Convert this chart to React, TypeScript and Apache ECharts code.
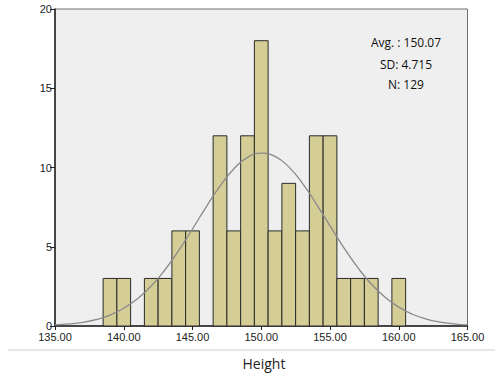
import React, { useEffect, useRef } from "react";
import * as echarts from "echarts";

const binCenters = [139, 140, 142, 143, 144, 145, 147, 148, 149, 150, 151, 152, 153, 154, 155, 156, 157, 158, 160];
const binCounts = [3, 3, 3, 3, 6, 6, 12, 6, 12, 18, 6, 9, 6, 12, 12, 3, 3, 3, 3];
const curveX = [135,136,137,138,139,140,141,142,143,144,145,146,147,148,149,150,151,152,153,154,155,156,157,158,159,160,161,162,163,164,165];
const curveY = [0.07,0.13,0.23,0.41,0.69,1.12,1.72,2.52,3.55,4.77,6.12,7.52,8.83,9.91,10.64,10.91,10.70,10.04,9.00,7.71,6.32,4.95,3.71,2.65,1.82,1.19,0.74,0.44,0.25,0.14,0.07];
const statLines = ["Avg. : 150.07", "SD: 4.715", "N: 129"];
const xTitle = "Height";

export default function App() {
  const ref = useRef<HTMLDivElement>(null);
  useEffect(() => {
    const chart = echarts.init(ref.current!, null, { renderer: "svg" });
    chart.setOption({
      animation: false,
      backgroundColor: "#ffffff",
      grid: {
        left: 55, top: 9, right: 35.5, bottom: 52,
        show: true, backgroundColor: "#efefef", borderColor: "#6e6e6e", borderWidth: 1,
      },
      xAxis: {
        type: "value", min: 135, max: 165, interval: 5,
        axisLine: { show: true, lineStyle: { color: "#222", width: 1.5 } },
        axisTick: { show: true, length: 4, lineStyle: { color: "#222" } },
        axisLabel: { formatter: (v: number) => v.toFixed(2), color: "#222", fontFamily: "Liberation Sans", fontSize: 11, margin: 5 },
        splitLine: { show: false },
      },
      yAxis: {
        type: "value", min: 0, max: 20, interval: 5,
        axisLine: { show: true, lineStyle: { color: "#222", width: 1.5 } },
        axisTick: { show: true, length: 5, lineStyle: { color: "#222" } },
        axisLabel: { color: "#222", fontFamily: "Liberation Sans", fontSize: 11, margin: 3 },
        splitLine: { show: false },
      },
      series: [
        {
          type: "custom",
          data: binCenters.map((c, i) => [c, binCounts[i]]),
          renderItem: (params: any, api: any) => {
            const c = api.value(0);
            const v = api.value(1);
            const p0 = api.coord([c - 0.5, v]);
            const p1 = api.coord([c + 0.5, 0]);
            return {
              type: "rect",
              shape: { x: p0[0], y: p0[1], width: p1[0] - p0[0], height: p1[1] - p0[1] },
              style: { fill: "#d4cd96", stroke: "#2a2a2a", lineWidth: 1 },
            };
          },
          z: 2,
        },
        {
          type: "line",
          data: curveX.map((x, i) => [x, curveY[i]]),
          smooth: true,
          showSymbol: false,
          lineStyle: { color: "#8a8a8a", width: 1.3 },
          z: 3,
        },
      ],
      graphic: [
        ...statLines.map((t, i) => ({
          type: "text",
          x: 406, y: [42, 64, 84][i],
          style: { text: t, fill: "#111", font: "12px 'Open Sans'", textAlign: "center", textVerticalAlign: "middle" },
        })),
        { type: "line", shape: { x1: 8, y1: 350, x2: 495, y2: 350 }, style: { stroke: "#cccccc", lineWidth: 1 } },
        { type: "text", x: 264, y: 363, style: { text: xTitle, fill: "#222", font: "14px 'Open Sans'", textAlign: "center", textVerticalAlign: "middle" } },
      ],
    });
    return () => chart.dispose();
  }, []);
  return <div ref={ref} style={{ position: "fixed", left: 0, top: 0, width: 503, height: 378 }} />;
}
